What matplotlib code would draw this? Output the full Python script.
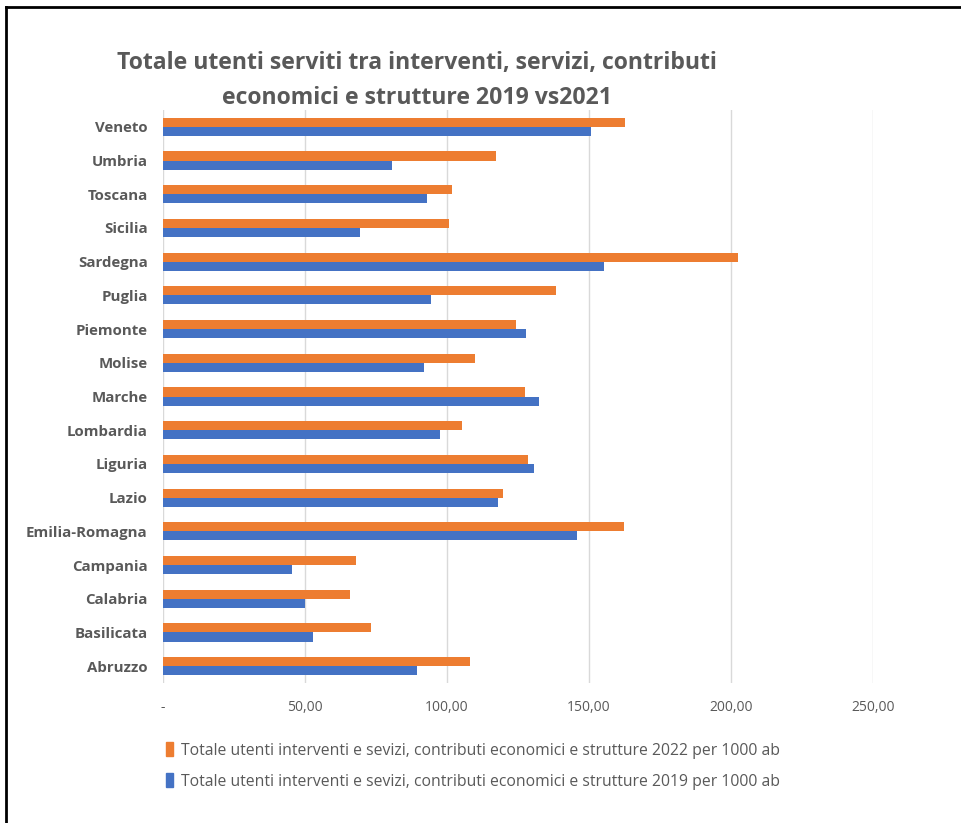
import numpy as np
import matplotlib.pyplot as plt
from matplotlib.lines import Line2D
from matplotlib.patches import Patch

regions = ["Abruzzo", "Basilicata", "Calabria", "Campania", "Emilia-Romagna",
           "Lazio", "Liguria", "Lombardia", "Marche", "Molise", "Piemonte",
           "Puglia", "Sardegna", "Sicilia", "Toscana", "Umbria", "Veneto"]
val_2022 = [108.0, 73.1, 65.8, 67.9, 162.3, 119.6, 128.4, 105.4, 127.3,
            109.7, 124.3, 138.3, 202.5, 100.7, 101.8, 117.4, 162.7]
val_2019 = [89.3, 52.8, 50.1, 45.5, 145.6, 117.9, 130.5, 97.7, 132.5,
            91.9, 127.9, 94.5, 155.4, 69.5, 92.8, 80.5, 150.7]
xticks = [0, 50, 100, 150, 200, 250]
xticklabels = ["-", "50,00", "100,00", "150,00", "200,00", "250,00"]
label_2022 = "Totale utenti interventi e sevizi, contributi economici e strutture 2022 per 1000 ab"
label_2019 = "Totale utenti interventi e sevizi, contributi economici e strutture 2019 per 1000 ab"

orange = "#ED7D31"
blue = "#4472C4"
grey = "#595959"

plt.rcParams['font.family'] = ['Open Sans', 'DejaVu Sans']

W, H = 961, 823
fig = plt.figure(figsize=(W / 100, H / 100), dpi=100)
ax = fig.add_axes([163 / W, 1 - 683 / H, (873 - 163) / W, (683 - 110) / H])

y = np.arange(len(regions))
h = 0.27
ax.barh(y + h / 2, val_2022, height=h, color=orange, label=label_2022, zorder=3)
ax.barh(y - h / 2, val_2019, height=h, color=blue, label=label_2019, zorder=3)

ax.set_xlim(0, 250)
ax.set_ylim(-0.5, len(regions) - 0.5)
ax.set_xticks(xticks)
ax.set_xticklabels(xticklabels, color=grey, fontsize=10)
ax.set_yticks(y)
ax.set_yticklabels(regions, color=grey, fontsize=10.8, fontweight='bold')
ax.tick_params(axis='both', length=0)
ax.tick_params(axis='x', pad=12)
ax.tick_params(axis='y', pad=11)
ax.grid(axis='x', color='#D9D9D9', lw=1, zorder=0)
for s in ax.spines.values():
    s.set_visible(False)

fig.text(417 / W, 1 - 63 / H, "Totale utenti serviti tra interventi, servizi, contributi",
         ha='center', va='center', fontsize=16.6, fontweight='bold', color=grey)
fig.text(417 / W, 1 - 98 / H, "economici e strutture 2019 vs2021",
         ha='center', va='center', fontsize=16.6, fontweight='bold', color=grey)

# legend, two rows below the plot
handles = [Patch(color=orange), Patch(color=blue)]
leg = fig.legend(handles, [label_2022, label_2019], loc='upper left',
                 bbox_to_anchor=(152 / W, 1 - 728 / H), frameon=False,
                 handlelength=0.45, handleheight=1.0, handletextpad=0.5,
                 labelspacing=0.95, fontsize=11.3, labelcolor=grey)

# frame lines of the screenshot
fig.add_artist(Line2D([6 / W, 6 / W], [0, 1 - 7 / H], color='black', lw=2))
fig.add_artist(Line2D([6 / W, 1], [1 - 7 / H, 1 - 7 / H], color='black', lw=2))

fig.savefig("out.png", dpi=100)
